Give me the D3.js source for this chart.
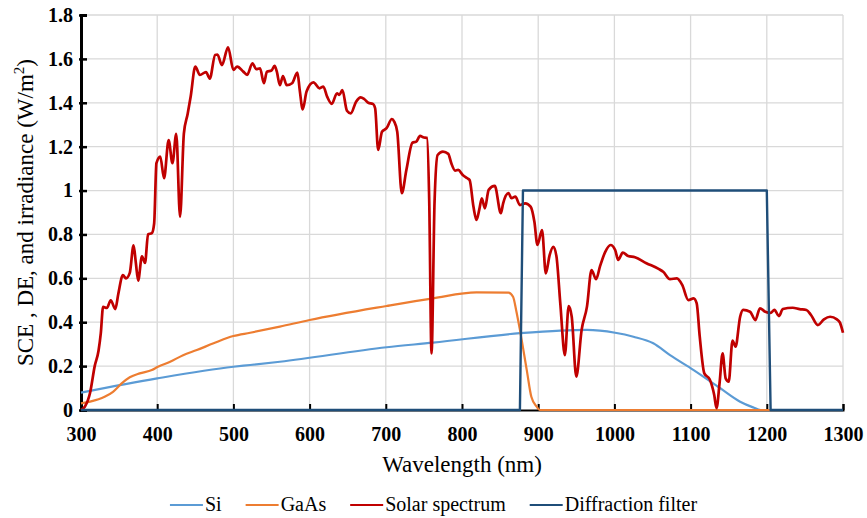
<!DOCTYPE html>
<html>
<head>
<meta charset="utf-8">
<script src="https://cdn.jsdelivr.net/npm/d3@7"></script>
<style>
  body { margin: 0; background: #fff; }
</style>
</head>
<body>
<div id="chart"></div>
<script>
// Values (wavelength in nm, value in SCE/DE/irradiance units).
const solarWl = [300, 305, 312, 318, 323, 326, 329, 334, 339, 345, 349, 355, 359, 364, 369, 372, 375, 380, 384, 388, 393, 396,
  399, 404, 409, 415, 420, 425, 430, 435, 440, 444, 450, 456, 464, 469, 476, 479, 485, 493, 500, 505, 513, 518, 525, 530,
  535, 540, 544, 550, 554, 557, 561, 565, 570, 577, 584, 587, 591, 596, 605, 613, 618, 623, 629, 636, 639, 643, 649, 654,
  661, 667, 672, 677, 683, 686, 690, 695, 701, 708, 711, 715, 721, 727, 735, 740, 745, 749, 754, 757, 760, 764, 768, 775,
  782, 786, 791, 795, 801, 807, 810, 815, 819, 823, 826, 830, 835, 843, 851, 854, 861, 865, 870, 876, 883, 890, 895, 899,
  905, 910, 915, 920, 924, 929, 935, 940, 944, 950, 957, 964, 970, 976, 981, 988, 995, 1001, 1005, 1011, 1018, 1027, 1042,
  1058, 1064, 1073, 1082, 1089, 1097, 1104, 1108, 1112, 1118, 1125, 1131, 1134, 1138, 1142, 1146, 1150, 1155, 1159, 1165,
  1169, 1178, 1185, 1191, 1198, 1205, 1210, 1216, 1221, 1234, 1243, 1252, 1258, 1267, 1275, 1283, 1292, 1296, 1300];
const solarVal = [0, 0.015, 0.08, 0.2, 0.27, 0.35, 0.47, 0.465, 0.5, 0.46, 0.53, 0.615, 0.6, 0.625, 0.75, 0.67, 0.59, 0.7, 0.67, 0.8, 0.806, 0.85,
  1.125, 1.155, 1.056, 1.23, 1.125, 1.258, 0.88, 1.26, 1.35, 1.43, 1.565, 1.527, 1.54, 1.51, 1.618, 1.62, 1.572, 1.653, 1.55, 1.565, 1.542, 1.527, 1.58, 1.553,
  1.557, 1.489, 1.542, 1.547, 1.568, 1.542, 1.48, 1.522, 1.48, 1.489, 1.538, 1.459, 1.37, 1.451, 1.493, 1.466, 1.474, 1.428, 1.395, 1.443, 1.436, 1.458, 1.364, 1.352,
  1.405, 1.425, 1.416, 1.4, 1.395, 1.375, 1.185, 1.268, 1.284, 1.326, 1.314, 1.268, 0.988, 1.094, 1.218, 1.223, 1.249, 1.243, 1.24, 0.95, 0.258, 0.95, 1.162, 1.177,
  1.167, 1.124, 1.091, 1.094, 1.071, 1.056, 1.048, 0.927, 0.866, 0.919, 0.965, 0.919, 1.003, 1.021, 0.897, 0.942, 0.988, 0.965, 0.972, 0.934, 0.942, 0.927, 0.858, 0.752,
  0.82, 0.623, 0.706, 0.744, 0.699, 0.486, 0.25, 0.474, 0.425, 0.152, 0.365, 0.471, 0.638, 0.596, 0.653, 0.721, 0.752, 0.729, 0.684, 0.717, 0.702, 0.696, 0.669,
  0.643, 0.63, 0.596, 0.6, 0.57, 0.501, 0.509, 0.486, 0.334, 0.167, 0.14, 0.068, 0.008, 0.122, 0.258, 0.144, 0.129, 0.316, 0.289, 0.425,
  0.456, 0.448, 0.41, 0.463, 0.448, 0.443, 0.456, 0.428, 0.46, 0.466, 0.46, 0.456, 0.433, 0.387, 0.413, 0.425, 0.413, 0.398, 0.352];

const gaasWl = [300, 312, 331, 342, 353, 364, 377, 393, 401, 417, 434, 452, 474, 500, 522, 561, 600, 701, 762, 819, 861, 867, 871, 876, 885, 891, 898, 902, 1300];
const gaasVal = [0.03, 0.038, 0.06, 0.083, 0.12, 0.149, 0.167, 0.182, 0.197, 0.22, 0.25, 0.273, 0.304, 0.337, 0.352, 0.38, 0.41, 0.474, 0.509, 0.536, 0.535, 0.516, 0.456, 0.365, 0.182, 0.06, 0.015, 0, 0];

const siWl = [300, 400, 500, 522, 561, 701, 762, 876, 929, 964, 1001, 1025, 1051, 1073, 1104, 1139, 1165, 1182, 1192, 1300];
const siVal = [0.079, 0.144, 0.197, 0.205, 0.22, 0.286, 0.307, 0.35, 0.362, 0.365, 0.352, 0.334, 0.304, 0.25, 0.182, 0.099, 0.038, 0.012, 0, 0];

const filterWl = [300, 876, 880, 1200, 1205, 1300];
const filterVal = [0, 0, 1, 1, 0, 0];

const xTicks = [300, 400, 500, 600, 700, 800, 900, 1000, 1100, 1200, 1300];
const yTicks = [0, 0.2, 0.4, 0.6, 0.8, 1, 1.2, 1.4, 1.6, 1.8];

const seriesNames = ["Si", "GaAs", "Solar spectrum", "Diffraction filter"];

// Layout
const w = 867, h = 518;
const margin = { top: 15, right: 24, bottom: 108, left: 81 };
const serif = "Liberation Serif";

const xScale = d3.scaleLinear().domain([300, 1300]).range([margin.left, w - margin.right]);
const yScale = d3.scaleLinear().domain([0, 1.8]).range([h - margin.bottom, margin.top]);

const svg = d3.select("#chart").append("svg")
    .attr("width", w)
    .attr("height", h)
    .attr("font-family", serif);

svg.append("rect").attr("width", w).attr("height", h).attr("fill", "#fff");

// Grid lines
svg.append("g")
    .selectAll("line")
    .data(yTicks.filter(d => d > 0))
    .enter().append("line")
    .attr("x1", margin.left).attr("x2", w - margin.right)
    .attr("y1", d => yScale(d)).attr("y2", d => yScale(d))
    .attr("stroke", "#d9d9d9").attr("stroke-width", 1.3);

svg.append("g")
    .selectAll("line")
    .data(xTicks.filter(d => d > 300))
    .enter().append("line")
    .attr("x1", d => xScale(d)).attr("x2", d => xScale(d))
    .attr("y1", margin.top).attr("y2", h - margin.bottom)
    .attr("stroke", "#d9d9d9").attr("stroke-width", 1.3);

// X axis (ticks point up into the plot)
const xAxis = d3.axisBottom(xScale).tickValues(xTicks).tickSize(-6).tickPadding(12).tickFormat(d3.format("d"));
const gx = svg.append("g")
    .attr("transform", `translate(0, ${h - margin.bottom})`)
    .call(xAxis)
    .attr("font-family", serif);
gx.select(".domain").attr("stroke", "#000").attr("stroke-width", 2);
gx.selectAll(".tick line").attr("stroke", "#000").attr("stroke-width", 2);
gx.selectAll(".tick text")
    .attr("font-family", serif)
    .attr("fill", "#000")
    .attr("font-size", 20).attr("font-weight", "bold")
    .attr("y", 17).attr("dy", "0.71em");

// Y axis
const yAxis = d3.axisLeft(yScale).tickValues(yTicks).tickSize(-6).tickPadding(8).tickFormat(d => d3.format("")(+d.toFixed(1)));
const gy = svg.append("g")
    .attr("transform", `translate(${margin.left}, 0)`)
    .call(yAxis)
    .attr("font-family", serif);
gy.select(".domain").attr("stroke", "#000").attr("stroke-width", 3);
gy.selectAll(".tick line").attr("stroke", "#000").attr("stroke-width", 2.5).attr("x1", -2);
gy.selectAll(".tick text")
    .attr("font-family", serif)
    .attr("fill", "#000")
    .attr("font-size", 20).attr("font-weight", "bold")
    .attr("x", -8);

// Series lines
const line = d3.line()
    .x(d => xScale(d[0]))
    .y(d => yScale(d[1]));

const zip = (a, b) => a.map((v, i) => [v, b[i]]);

const series = [
    { name: seriesNames[0], data: zip(siWl, siVal), color: "#5B9BD5", width: 2.2, curve: d3.curveMonotoneX },
    { name: seriesNames[1], data: zip(gaasWl, gaasVal), color: "#ED7D31", width: 2.2, curve: d3.curveMonotoneX },
    { name: seriesNames[2], data: zip(solarWl, solarVal), color: "#C00000", width: 2.7, curve: d3.curveMonotoneX },
    { name: seriesNames[3], data: zip(filterWl, filterVal), color: "#1F4E79", width: 2.4, curve: d3.curveLinear }
];

series.forEach(s => {
    svg.append("path")
        .datum(s.data)
        .attr("fill", "none")
        .attr("stroke", s.color)
        .attr("stroke-width", s.width)
        .attr("stroke-linejoin", "round")
        .attr("d", line.curve(s.curve));
});

// Axis titles
svg.append("text")
    .attr("x", (xScale(300) + xScale(1300)) / 2)
    .attr("y", 472)
    .attr("text-anchor", "middle")
    .attr("font-family", serif)
    .attr("font-size", 23)
    .text("Wavelength (nm)");

const yTitle = svg.append("text")
    .attr("transform", `translate(33, ${(yScale(0) + yScale(1.8)) / 2}) rotate(-90)`)
    .attr("text-anchor", "middle")
    .attr("font-family", serif)
    .attr("font-size", 23);
yTitle.append("tspan").text("SCE , DE, and irradiance (W/m");
yTitle.append("tspan").attr("font-size", 15).attr("dy", -9).text("2");
yTitle.append("tspan").attr("dy", 9).text(")");

// Legend, centred on the page
const legend = svg.append("g");
let lx = 0;
series.forEach(s => {
    const item = legend.append("g").attr("transform", `translate(${lx}, 0)`);
    item.append("line")
        .attr("x1", 0).attr("x2", 33)
        .attr("y1", 505).attr("y2", 505)
        .attr("stroke", s.color).attr("stroke-width", 2.2);
    const t = item.append("text")
        .attr("x", 35).attr("y", 511)
        .attr("font-family", serif)
        .attr("font-size", 20)
        .text(s.name);
    lx += 35 + t.node().getComputedTextLength() + 24;
});
const legendWidth = lx - 24;
legend.attr("transform", `translate(${(w - legendWidth) / 2}, 0)`);
</script>
</body>
</html>
